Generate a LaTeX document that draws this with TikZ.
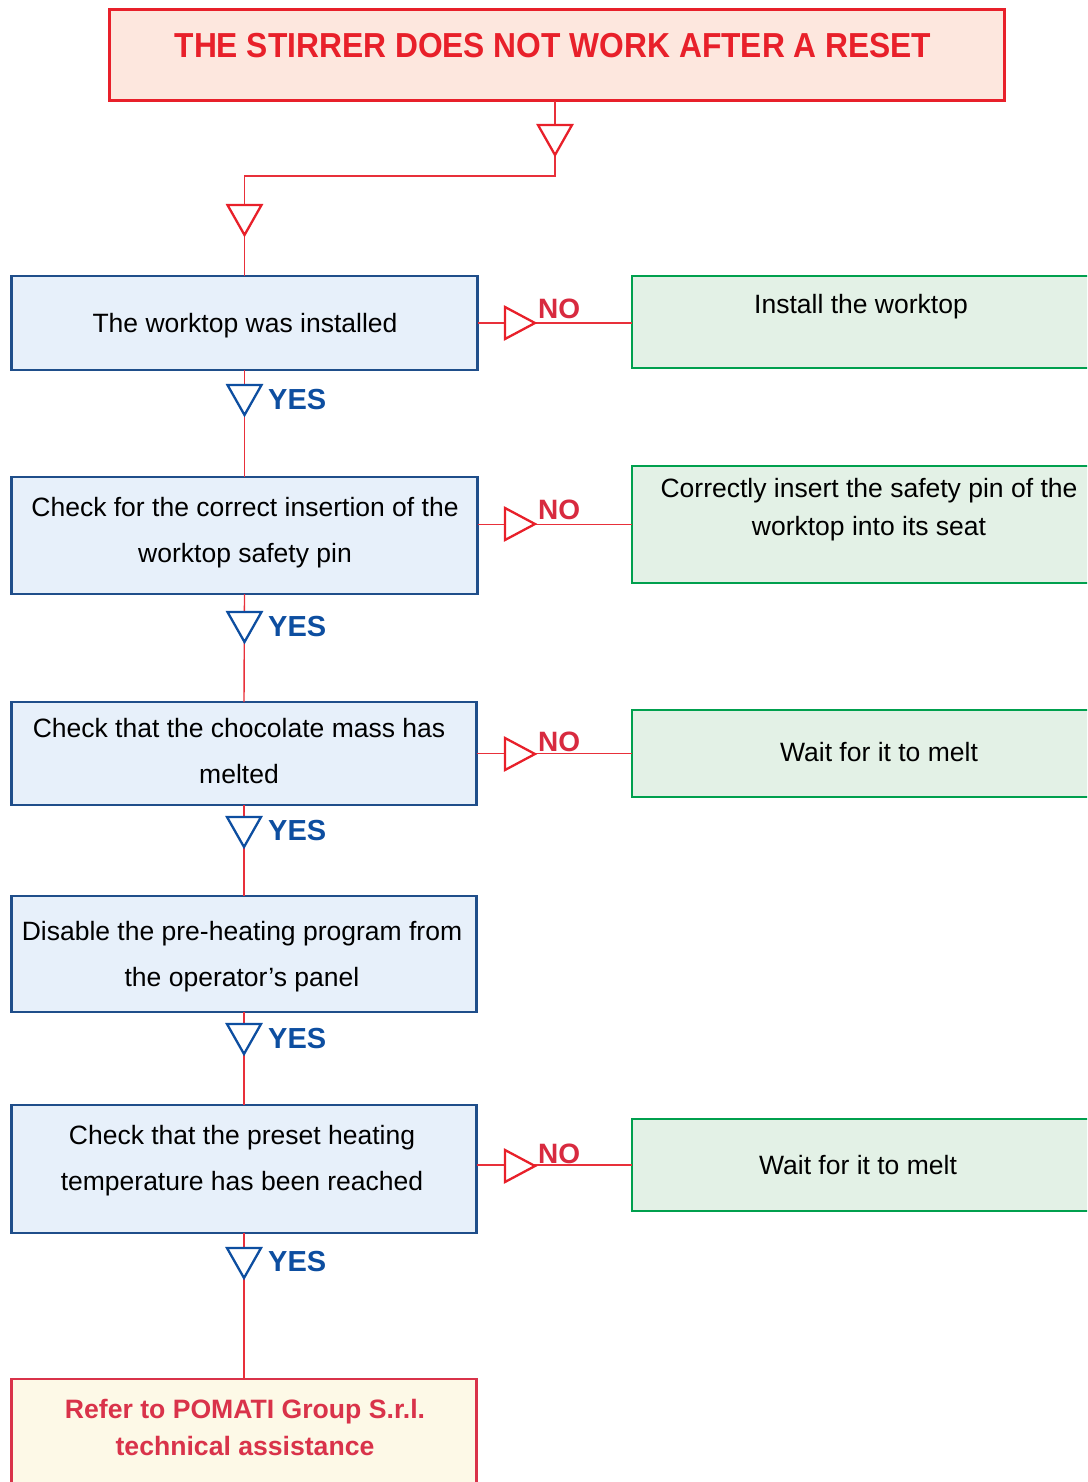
\documentclass[tikz,border=0pt]{standalone}
\usepackage{fontspec}
\setmainfont{Liberation Sans}
\usepackage{graphicx}
\definecolor{titleRed}{HTML}{E8202A}
\definecolor{titleFill}{HTML}{FDE7DE}
\definecolor{blueBorder}{HTML}{1F4E8A}
\definecolor{blueFill}{HTML}{E7F0FA}
\definecolor{greenBorder}{HTML}{00A04E}
\definecolor{greenFill}{HTML}{E3F1E6}
\definecolor{yesBlue}{HTML}{0D4EA0}
\definecolor{noRed}{HTML}{D82A3F}
\definecolor{finalRed}{HTML}{D9334A}
\definecolor{finalFill}{HTML}{FDF9E7}
\definecolor{connRed}{HTML}{E8303A}
\tikzset{
  boxbase/.style={rectangle, anchor=north west, inner sep=0pt, outer sep=0pt},
  titlebox/.style={boxbase, draw=titleRed, fill=titleFill, line width=3pt},
  bluebox/.style={boxbase, draw=blueBorder, fill=blueFill, line width=2.5pt},
  greenbox/.style={boxbase, draw=greenBorder, fill=greenFill, line width=2.5pt},
  finalbox/.style={boxbase, draw=finalRed, fill=finalFill, line width=2.5pt},
  conn/.style={draw=connRed, line width=1.4pt},
  bodytext/.style={anchor=base, align=center, inner sep=0pt, font=\fontsize{26.5}{46}\selectfont, text=black},
  greentext/.style={bodytext, font=\fontsize{26.5}{38}\selectfont},
  finaltext/.style={anchor=base, align=center, inner sep=0pt, font=\fontsize{26.6}{37}\selectfont\bfseries, text=finalRed},
  nolabel/.style={anchor=base west, inner sep=0pt, font=\fontsize{28}{30}\selectfont\bfseries, text=noRed},
  yeslabel/.style={anchor=base west, inner sep=0pt, font=\fontsize{29}{30}\selectfont\bfseries, text=yesBlue},
  redtri/.style={draw=titleRed, fill=white, line width=2.3pt, line join=miter},
  bluetri/.style={draw=yesBlue, fill=white, line width=2.3pt, line join=miter},
  pics/dtri/.style={code={\path[#1] (-17,0) -- (17,0) -- (0,30) -- cycle;}},
  pics/rtri/.style={code={\path[#1] (0,-16) -- (30,0) -- (0,16) -- cycle;}},
}
\begin{document}
\begin{tikzpicture}[x=1pt,y=-1pt]
\useasboundingbox (0,0) rectangle (1087,1482);
\clip (0,0) rectangle (1087,1482);
\fill[white] (0,0) rectangle (1087,1482);

% boxes
\node[titlebox, minimum width=895pt, minimum height=91pt] (title) at (109,10) {};
\node[bluebox, minimum width=466pt, minimum height=94pt] (b1) at (11.5,276) {};
\node[bluebox, minimum width=466pt, minimum height=117pt] (b2) at (11.5,477) {};
\node[bluebox, minimum width=465pt, minimum height=103pt] (b3) at (11.5,702) {};
\node[bluebox, minimum width=465pt, minimum height=116pt] (b4) at (11.5,896) {};
\node[bluebox, minimum width=465pt, minimum height=128pt] (b5) at (11.5,1105) {};
\node[finalbox, minimum width=465pt, minimum height=140pt] (fin) at (11.5,1379) {};
\node[greenbox, minimum width=480pt, minimum height=92pt] (g1) at (632,276) {};
\node[greenbox, minimum width=480pt, minimum height=117pt] (g2) at (632,466) {};
\node[greenbox, minimum width=480pt, minimum height=87pt] (g3) at (632,710) {};
\node[greenbox, minimum width=480pt, minimum height=92pt] (g5) at (632,1119) {};

% texts (anchor = baseline of last line)
\node[anchor=base, inner sep=0pt, text=titleRed, font=\fontsize{34.7}{36}\selectfont\bfseries] (ttitle) at (553,57.5) {\scalebox{0.915}[1]{THE STIRRER DOES NOT WORK AFTER A RESET}};
\node[bodytext] (tb1) at (245,332) {The worktop was installed};
\node[bodytext] (tb2) at (245,562) {Check for the correct insertion of the\\worktop safety pin};
\node[bodytext] (tb3) at (239,783) {Check that the chocolate mass has\\melted};
\node[bodytext] (tb4) at (242,986) {Disable the pre-heating program from\\the operator’s panel};
\node[bodytext] (tb5) at (242,1190) {Check that the preset heating\\temperature has been reached};
\node[finaltext] (tfin) at (245,1455) {Refer to POMATI Group S.r.l.\\technical assistance};
\node[greentext] (tg1) at (861,313) {Install the worktop};
\node[greentext] (tg2) at (869,535) {Correctly insert the safety pin of the\\worktop into its seat};
\node[greentext] (tg3) at (879,761) {Wait for it to melt};
\node[greentext] (tg5) at (858,1174) {Wait for it to melt};

% connectors
\coordinate (split) at (555,176);
\draw[conn] (title.south -| split) -- (split) -| (b1.north);
\draw[conn] (b1.south) -- (b2.north);
\draw[conn] (b2.south) -- (b3.north);
\draw[conn] (b3.south) -- (b4.north);
\draw[conn] (b4.south) -- (b5.north);
\draw[conn] (b5.south) -- (fin.north);
\draw[conn] (b1.east |- 0,323) -- (g1.west |- 0,323);
\draw[conn] (b2.east |- g2.west) -- (g2.west);
\draw[conn] (b3.east |- g3.west) -- (g3.west);
\draw[conn] (b5.east |- g5.west) -- (g5.west);

% triangles
\pic at (555,125) {dtri=redtri};
\pic at (244.5,205) {dtri=redtri};
\pic at (244.5,385) {dtri=bluetri};
\pic at (244.5,612) {dtri=bluetri};
\pic at (244,817) {dtri=bluetri};
\pic at (244,1024) {dtri=bluetri};
\pic at (244,1248) {dtri=bluetri};
\pic at (505,323) {rtri=redtri};
\pic at (505,524) {rtri=redtri};
\pic at (505,754) {rtri=redtri};
\pic at (505,1166) {rtri=redtri};

% labels
\node[yeslabel] (y1) at (268,409) {YES};
\node[yeslabel] (y2) at (268,636) {YES};
\node[yeslabel] (y3) at (268,840) {YES};
\node[yeslabel] (y4) at (268,1048) {YES};
\node[yeslabel] (y5) at (268,1271) {YES};
\node[nolabel] (n1) at (538,318) {NO};
\node[nolabel] (n2) at (538,519) {NO};
\node[nolabel] (n3) at (538,751) {NO};
\node[nolabel] (n5) at (538,1163) {NO};
\end{tikzpicture}
\end{document}
